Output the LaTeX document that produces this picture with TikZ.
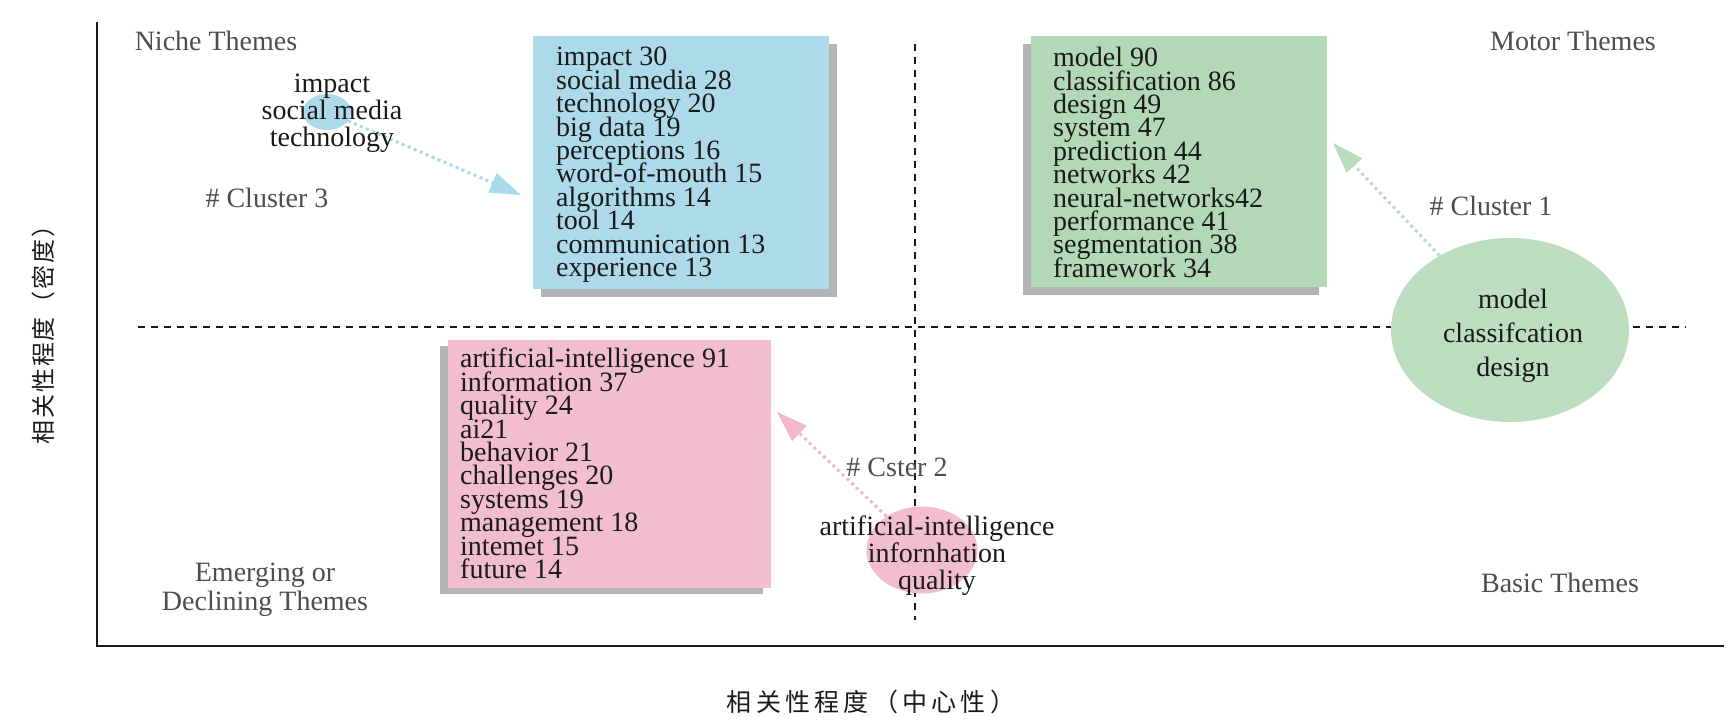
\documentclass[tikz,border=0pt]{standalone}
\usepackage{fontspec}
\setmainfont{Liberation Serif}
\newfontfamily\cjkx{Noto Sans CJK SC}[LetterSpace=17]
\newfontfamily\cjky{Noto Sans CJK SC}[LetterSpace=8]
\usetikzlibrary{shapes.geometric,arrows.meta,shadows}
\definecolor{boxblue}{HTML}{ADDAEA}
\definecolor{boxgreen}{HTML}{B3D8B7}
\definecolor{boxpink}{HTML}{F2BDD0}
\definecolor{ellgreen}{HTML}{BCDDC0}
\definecolor{shadowgray}{HTML}{B4B4B4}
\definecolor{arrblue}{HTML}{A8DAEA}
\definecolor{arrgreen}{HTML}{B8DDBE}
\definecolor{arrpink}{HTML}{F0B8CC}
\definecolor{labelgray}{HTML}{4D4D4D}
\definecolor{textblack}{HTML}{1A1A1A}
\global\lineskiplimit=-100pt
\begin{document}
\begin{tikzpicture}[x=1pt,y=-1pt,
  axisline/.style={line width=2.5pt,draw=textblack},
  quadline/.style={line width=2.2pt,draw=textblack,dash pattern=on 7pt off 6pt},
  cbox/.style={rectangle,draw=none,inner sep=0pt},
  boxtext/.style={inner sep=0pt,align=left,anchor=north west,text=textblack,
    font=\fontsize{28}{23.4}\selectfont},
  elltext/.style={inner sep=0pt,align=center,anchor=north,text=textblack},
  qlabel/.style={inner sep=0pt,text=labelgray,font=\fontsize{28}{29}\selectfont},
  blob/.style={ellipse,draw=none,inner sep=0pt},
  arr/.style={line width=3pt,dash pattern=on 3pt off 3.5pt},
]
\useasboundingbox (0,0) rectangle (1734,726);

% axes
\coordinate (ytop) at (97,22);
\coordinate (orig) at (97,646);
\coordinate (xend) at (1724,646);
\draw[axisline] (ytop) -- (orig) -- (xend);

% quadrant dashed lines
\coordinate (hl) at (138,327);
\coordinate (hr) at (1686,327);
\coordinate (vt) at (915,44);
\coordinate (vb) at (915,620);
\draw[quadline] (hl) -- (hr);
\draw[quadline] (vt) -- (vb);

% boxes
\node[cbox,fill=boxblue,minimum width=296pt,minimum height=253pt,
  drop shadow={shadow xshift=8pt,shadow yshift=-8pt,fill=shadowgray,opacity=1}] (b3) at (681,162.5) {};
\node[cbox,fill=boxgreen,minimum width=296pt,minimum height=251pt,
  drop shadow={shadow xshift=-8pt,shadow yshift=-8pt,fill=shadowgray,opacity=1}] (b1) at (1179,161.5) {};
\node[cbox,fill=boxpink,minimum width=323pt,minimum height=248pt,
  drop shadow={shadow xshift=-8pt,shadow yshift=-6pt,fill=shadowgray,opacity=1}] (b2) at (609.5,464) {};

\node[boxtext] (t3) at (556,47) {impact 30\\social media 28\\technology 20\\big data 19\\perceptions 16\\word-of-mouth 15\\algorithms 14\\tool 14\\communication 13\\experience 13};
\node[boxtext] (t1) at (1053,47) {model 90\\classification 86\\design 49\\system 47\\prediction 44\\networks 42\\neural-networks42\\performance 41\\segmentation 38\\framework 34};
\node[boxtext] (t2) at (460,348) {artificial-intelligence 91\\information 37\\quality 24\\ai21\\behavior 21\\challenges 20\\systems 19\\management 18\\intemet 15\\future 14};

% cluster ellipses
\node[blob,fill=boxblue,minimum width=48pt,minimum height=36pt] (e3) at (327,112) {};
\node[blob,fill=ellgreen,minimum width=238pt,minimum height=184pt] (e1) at (1510,330) {};
\node[blob,fill=boxpink,minimum width=111pt,minimum height=87pt] (e2) at (922,550) {};

% arrows
\coordinate (a3) at (521,195);
\coordinate (a1) at (1333,143);
\coordinate (a2) at (777,412);
\draw[arr,draw=arrblue,-{Triangle[length=31pt,width=21pt,line width=0.5pt,fill=arrblue]}] (e3) -- (a3);
\draw[arr,draw=arrgreen,-{Triangle[length=31pt,width=21pt,line width=0.5pt,fill=arrgreen]}] (e1) -- (a1);
\draw[arr,draw=arrpink,-{Triangle[length=31pt,width=21pt,line width=0.5pt,fill=arrpink]}] (e2) -- (a2);

% ellipse texts
\node[elltext,font=\fontsize{28}{27}\selectfont] (l3) at (332,74) {impact\\social media\\technology};
\node[elltext,font=\fontsize{28}{34}\selectfont] (l1) at (1513,289) {model\\classifcation\\design};
\node[elltext,font=\fontsize{28}{27}\selectfont] (l2) at (937,516) {artificial-intelligence\\infornhation\\quality};

% quadrant / cluster labels
\node[qlabel,anchor=base] (niche) at (216,50) {Niche Themes};
\node[qlabel,anchor=base] (motor) at (1573,50) {Motor Themes};
\node[qlabel,anchor=base] (basic) at (1560,592) {Basic Themes};
\node[qlabel,anchor=north,align=center] (emerg) at (265,563) {Emerging or\\Declining Themes};
\node[qlabel,anchor=base] (c3) at (267,207) {\# Cluster 3};
\node[qlabel,anchor=base] (c1) at (1491,215) {\# Cluster 1};
\node[qlabel,anchor=base] (c2) at (897,476) {\# Cster 2};

% axis titles
\node[inner sep=0pt,rotate=90,text=textblack,font=\cjky\fontsize{24}{24}\selectfont] (ylab) at (43,329) {相关性程度（密度）};
\node[inner sep=0pt,text=textblack,font=\cjkx\fontsize{25}{25}\selectfont] (xlab) at (871,702) {相关性程度（中心性）};
\end{tikzpicture}
\end{document}
